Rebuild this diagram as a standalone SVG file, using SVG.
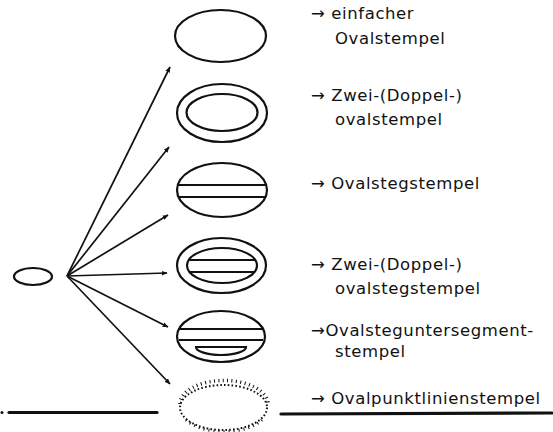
<svg xmlns="http://www.w3.org/2000/svg" width="553" height="432" viewBox="0 0 553 432">
<defs>
<style>
.o{fill:none;stroke:#111;stroke-width:2.2}
.c{fill:none;stroke:#111;stroke-width:1.7}
.t{font-family:"DejaVu Sans","Liberation Sans",sans-serif;font-size:16.5px;letter-spacing:0.6px;fill:#111}
.b{stroke:#111;stroke-width:3.2;stroke-linecap:round}
</style>
<marker id="ah" viewBox="0 0 10 10" refX="9" refY="5" markerWidth="6" markerHeight="6" orient="auto" markerUnits="userSpaceOnUse">
<path d="M0,1 L10,5 L0,9 Z" fill="#111"/>
</marker>
</defs>
<rect width="553" height="432" fill="#fff"/>

<g id="source">
<ellipse class="o" cx="33" cy="276.5" rx="19" ry="8.5"/>
</g>

<g id="connectors">
<line class="c" x1="67" y1="276" x2="170" y2="67" marker-end="url(#ah)"/>
<line class="c" x1="67" y1="276" x2="169" y2="147" marker-end="url(#ah)"/>
<line class="c" x1="67" y1="276" x2="168" y2="215" marker-end="url(#ah)"/>
<line class="c" x1="67" y1="276" x2="167" y2="273" marker-end="url(#ah)"/>
<line class="c" x1="67" y1="276" x2="168" y2="327" marker-end="url(#ah)"/>
<line class="c" x1="67" y1="276" x2="170" y2="384" marker-end="url(#ah)"/>
</g>

<g id="n1">
<ellipse class="o" cx="220.5" cy="36" rx="45.5" ry="26"/>
<text class="t" x="311" y="19">→ einfacher</text>
<text class="t" x="335" y="44">Ovalstempel</text>
</g>

<g id="n2">
<ellipse class="o" cx="222" cy="113" rx="45" ry="29"/>
<ellipse class="o" cx="222" cy="112.5" rx="35.5" ry="18.5"/>
<text class="t" x="311" y="101">→ Zwei-(Doppel-)</text>
<text class="t" x="335" y="125">ovalstempel</text>
</g>

<g id="n3">
<ellipse class="o" cx="222" cy="190" rx="45" ry="27"/>
<line class="o" x1="178" y1="185" x2="266" y2="185"/>
<line class="o" x1="178" y1="197" x2="266" y2="197"/>
<text class="t" x="311" y="189">→ Ovalstegstempel</text>
</g>

<g id="n4">
<ellipse class="o" cx="221.5" cy="265.5" rx="44.5" ry="27.5"/>
<ellipse class="o" cx="222" cy="265.5" rx="35" ry="17.5"/>
<line class="o" x1="189" y1="260" x2="255" y2="260"/>
<line class="o" x1="189" y1="272" x2="255" y2="272"/>
<text class="t" x="311" y="270">→ Zwei-(Doppel-)</text>
<text class="t" x="335" y="294">ovalstegstempel</text>
</g>

<g id="n5">
<ellipse class="o" cx="221" cy="336.5" rx="44" ry="25.5"/>
<line class="o" x1="178" y1="329" x2="264" y2="329"/>
<line class="o" x1="179" y1="340" x2="263" y2="340"/>
<path class="o" d="M196,347 L246,347 A25,8 0 0 1 196,347 Z"/>
<text class="t" x="311" y="336">→Ovalsteguntersegment-</text>
<text class="t" x="335" y="357">stempel</text>
</g>

<g id="n6">
<ellipse fill="none" stroke="#111" stroke-width="2" stroke-dasharray="1.6 2.2" cx="223.5" cy="407.5" rx="43.5" ry="22.5"/>
<path fill="none" stroke="#111" stroke-width="3.5" stroke-dasharray="1 3.4" d="M180,404 A44,23.5 0 0 1 268,404"/>
<path fill="none" stroke="#111" stroke-width="3" stroke-dasharray="1 4" d="M262,420 A44,23.5 0 0 1 186,420"/>
<text class="t" x="311" y="404">→ Ovalpunktlinienstempel</text>
</g>

<g id="baseline">
<circle cx="2" cy="412.5" r="1.5" fill="#111"/>
<line class="b" x1="9" y1="412.5" x2="157" y2="412.5"/>
<line class="b" x1="281" y1="414" x2="552" y2="413"/>
</g>
</svg>
